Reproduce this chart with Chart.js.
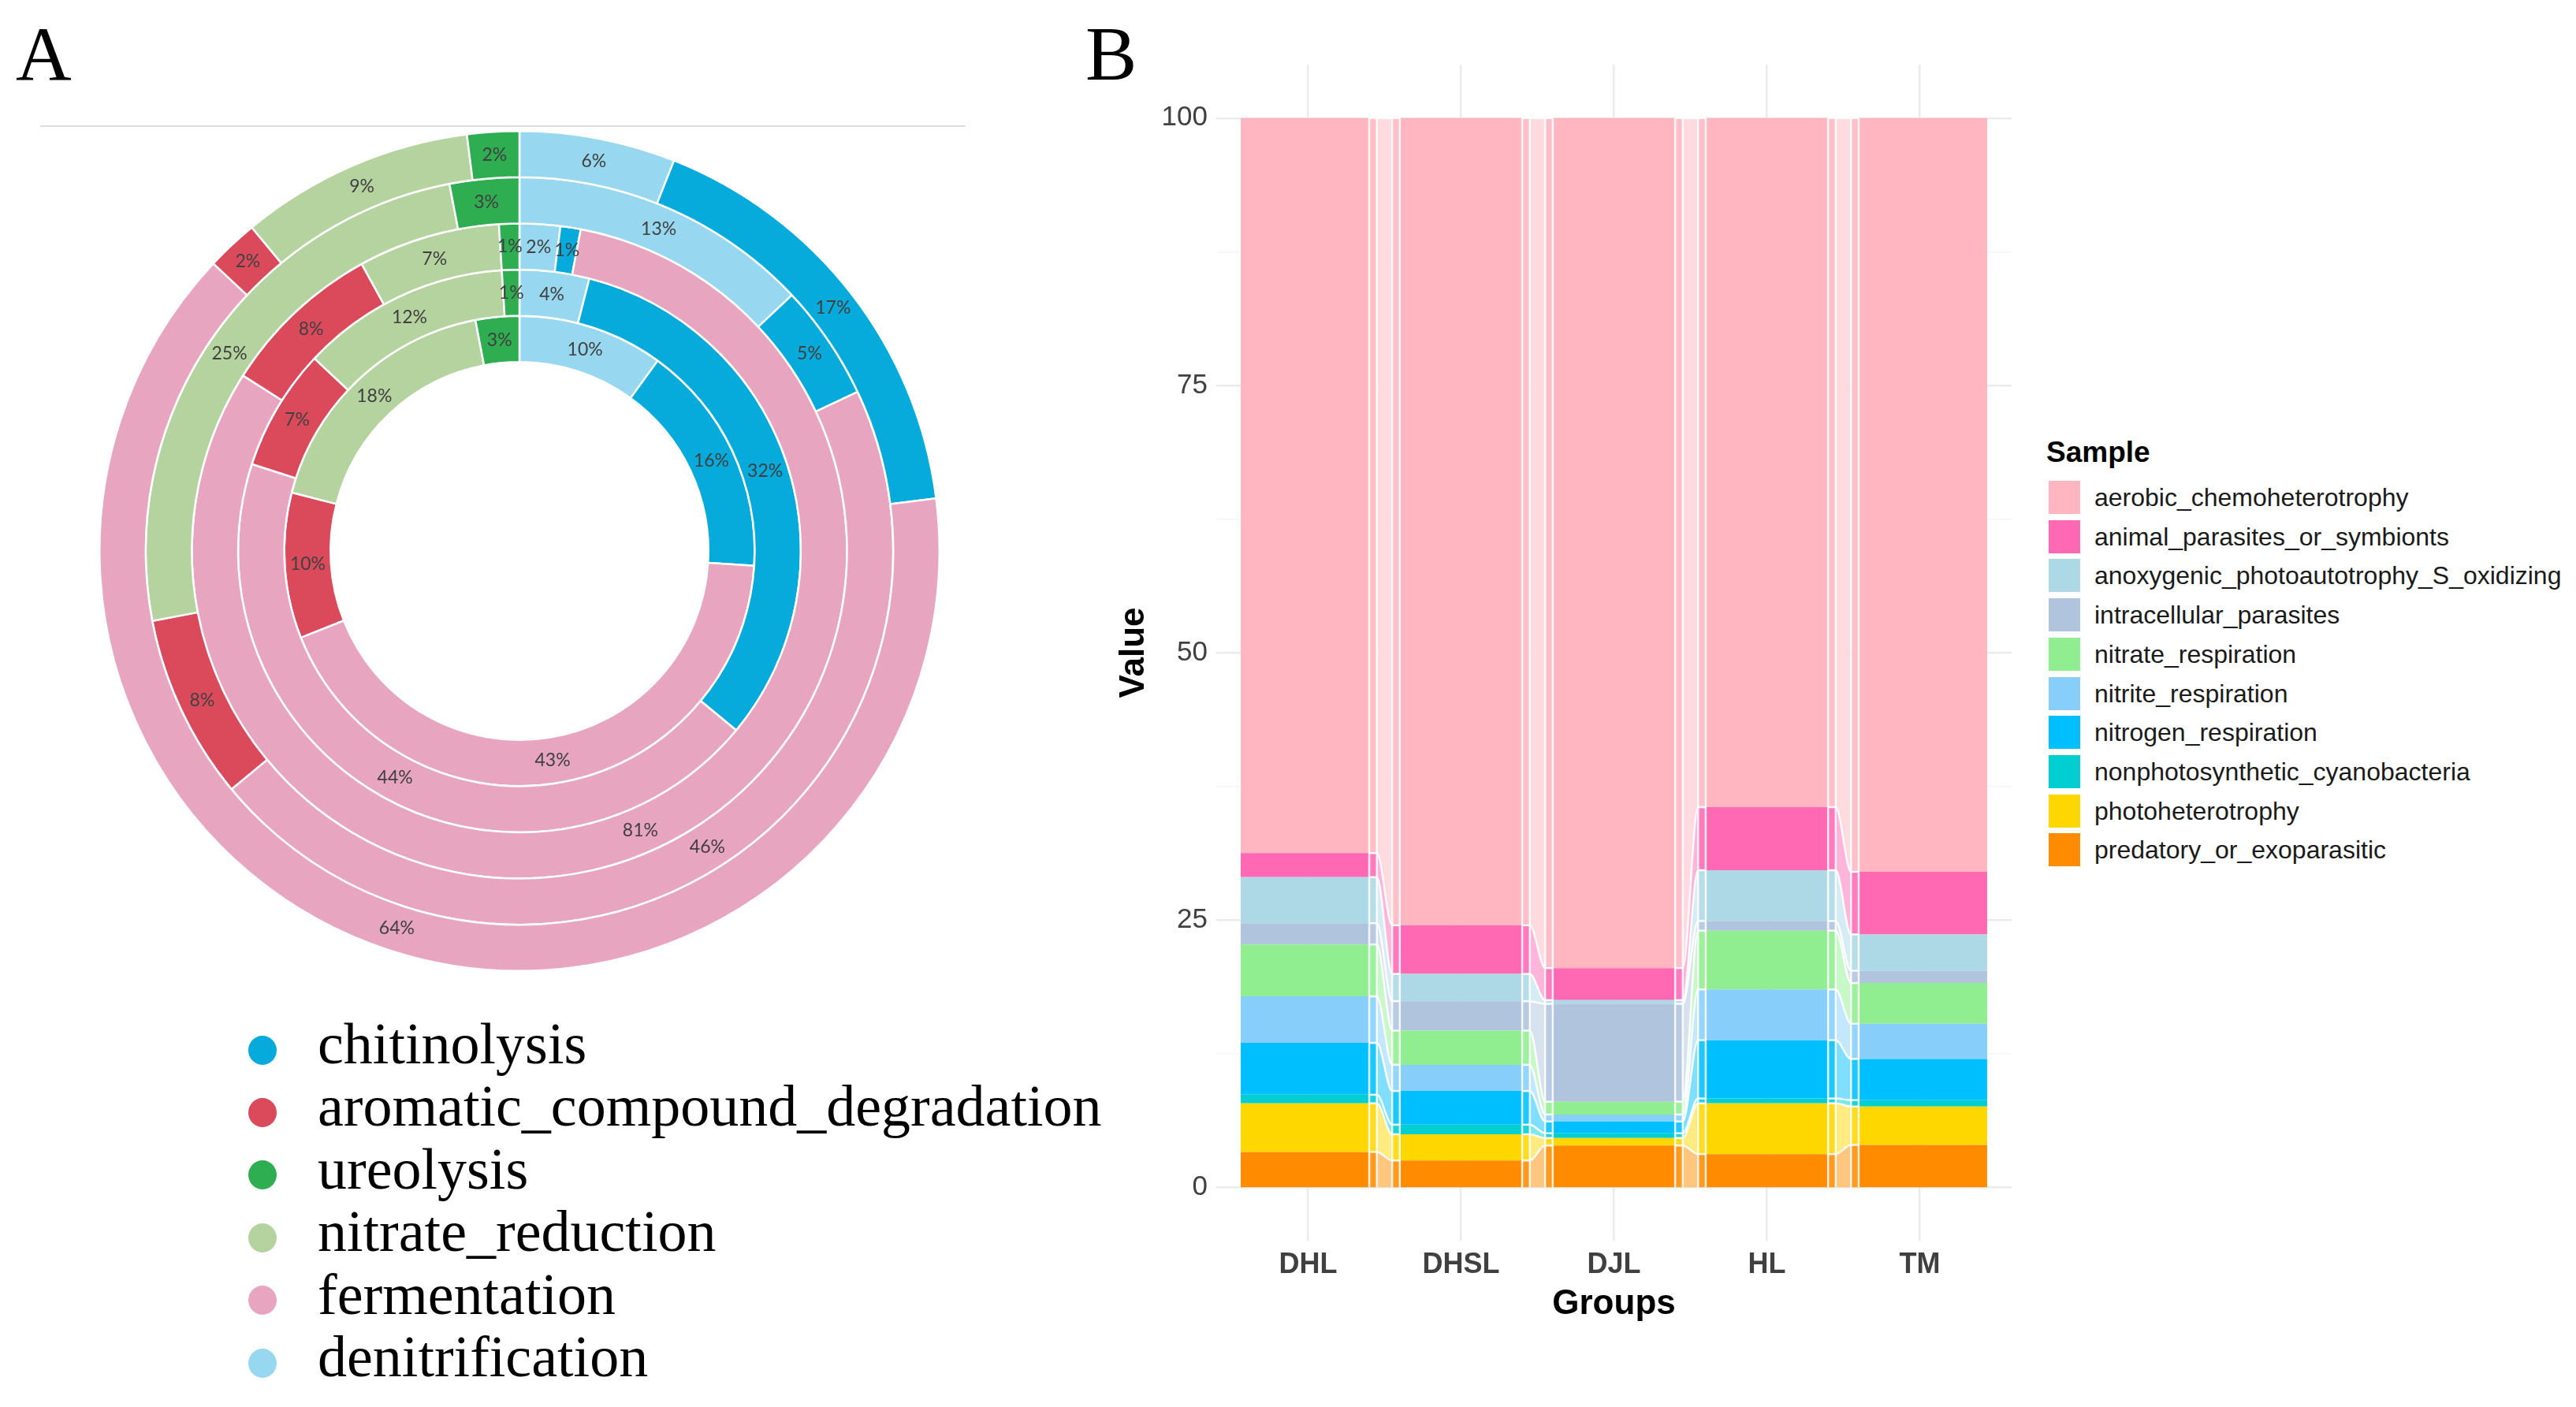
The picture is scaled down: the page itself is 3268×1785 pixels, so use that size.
<!DOCTYPE html>
<html>
<head>
<meta charset="utf-8">
<script src="https://cdn.jsdelivr.net/npm/chart.js@4.4.1/dist/chart.umd.min.js"></script>
<style>
    html, body { margin: 0; padding: 0; background: #fff; }
    body { width: 3268px; height: 1785px; position: relative; overflow: hidden; }
    .tag { position: absolute; font-family: "Liberation Serif", serif; font-size: 98px; line-height: 98px; color: #000; }
    #lineA { position: absolute; left: 51px; top: 159px; width: 1174px; height: 2px; background: #dcdcdc; }
    #chartA { position: absolute; left: 125px; top: 165px; }
    #chartB { position: absolute; left: 1380px; top: 0; }
    .legA { position: absolute; left: 403px; font-family: "Liberation Serif", serif; font-size: 74px; line-height: 74px; color: #000; white-space: nowrap; }
    .dotA { position: absolute; left: 315px; width: 36px; height: 37px; border-radius: 50%; }
    .legBTitle { position: absolute; left: 2596px; top: 552px; font-family: "Liberation Sans", Arial, sans-serif; font-weight: bold; font-size: 37px; line-height: 44px; color: #000; }
    .boxB { position: absolute; left: 2599px; width: 40px; height: 42px; }
    .txtB { position: absolute; left: 2657px; height: 42px; line-height: 42px; font-family: "Liberation Sans", Arial, sans-serif; font-size: 32px; color: #1a1a1a; white-space: nowrap; }
</style>
</head>
<body>
<div class="tag" style="left:20px; top:19px;">A</div>
<div class="tag" style="left:1377px; top:19px;">B</div>
<div id="lineA"></div>
<canvas id="chartA" width="1068" height="1068"></canvas>
<canvas id="chartB" width="1190" height="1710"></canvas>
<div id="legendA"></div>
<div id="legendB"></div>

<script>
// ---------- panel A : rings, inner -> outer ----------
const functionsA = ['denitrification', 'chitinolysis', 'fermentation', 'aromatic_compound_degradation', 'nitrate_reduction', 'ureolysis'];
const colorsA = ['#97d7f0', '#06abdb', '#e8a5c0', '#db4a5a', '#b5d39e', '#2ead51'];
const legendOrderA = ['chitinolysis', 'aromatic_compound_degradation', 'ureolysis', 'nitrate_reduction', 'fermentation', 'denitrification'];
const ring1 = [10, 16, 43, 10, 18, 3];
const ring2 = [4, 32, 44, 7, 12, 1];
const ring3 = [2, 1, 81, 8, 7, 1];
const ring4 = [13, 5, 46, 8, 25, 3];
const ring5 = [6, 17, 64, 2, 9, 2];

// ---------- panel B : alluvial stacks ----------
const groups = ['DHL', 'DHSL', 'DJL', 'HL', 'TM'];
const sampleNames = [
    'aerobic_chemoheterotrophy', 'animal_parasites_or_symbionts', 'anoxygenic_photoautotrophy_S_oxidizing',
    'intracellular_parasites', 'nitrate_respiration', 'nitrite_respiration', 'nitrogen_respiration',
    'nonphotosynthetic_cyanobacteria', 'photoheterotrophy', 'predatory_or_exoparasitic'
];
const sampleColors = ['#ffb6c1', '#ff69b4', '#add8e6', '#b0c4de', '#90ee90', '#87cefa', '#00bfff', '#00ced1', '#ffd700', '#ff8c00'];
const aerobic = [68.75, 75.5, 79.5, 64.45, 70.5];
const animalParasites = [2.25, 4.55, 3.0, 5.9, 5.85];
const anoxygenic = [4.3, 2.55, 0.35, 4.75, 3.4];
const intracellular = [2.0, 2.75, 9.15, 0.9, 1.15];
const nitrateResp = [4.85, 3.2, 1.2, 5.5, 3.8];
const nitriteResp = [4.35, 2.45, 0.65, 4.75, 3.3];
const nitrogenResp = [4.85, 3.15, 1.1, 5.45, 3.85];
const nonphotoCyano = [0.8, 0.9, 0.45, 0.45, 0.6];
const photohet = [4.55, 2.45, 0.7, 4.75, 3.6];
const predatory = [3.3, 2.5, 3.9, 3.1, 3.95];
const sampleValues = [aerobic, animalParasites, anoxygenic, intracellular, nitrateResp, nitriteResp, nitrogenResp, nonphotoCyano, photohet, predatory];
const yTicks = [0, 12.5, 25, 37.5, 50, 62.5, 75, 87.5, 100];
const yLabelTicks = [0, 25, 50, 75, 100];

const BAR_HALF = 0.4;   // inner bar edges
const END_HALF = 0.44;  // outer edges of first / last bar

// ---------- helpers ----------
function mix(hex, a) {
    const n = parseInt(hex.slice(1), 16);
    const c = [(n >> 16) & 255, (n >> 8) & 255, n & 255].map(v => Math.round(255 - (255 - v) * a));
    return `rgb(${c[0]},${c[1]},${c[2]})`;
}

function flowPoints(values) {
    const pts = [];
    values.forEach((v, i) => {
        const left = i === 0 ? -END_HALF : i - BAR_HALF;
        const right = i === values.length - 1 ? i + END_HALF : i + BAR_HALF;
        pts.push({ x: left, y: v }, { x: right, y: v });
        if (i < values.length - 1) {
            pts.push({ x: i + 0.45, y: v }, { x: i + 0.55, y: values[i + 1] });
        }
    });
    return pts;
}

// ---------- chart A ----------
const pctLabels = {
    id: 'pctLabels',
    afterDatasetsDraw(chart) {
        const ctx = chart.ctx;
        ctx.save();
        ctx.font = '23px Lato';
        ctx.fillStyle = '#404040';
        ctx.textAlign = 'center';
        ctx.textBaseline = 'middle';
        chart.data.datasets.forEach((ds, di) => {
            chart.getDatasetMeta(di).data.forEach((arc, i) => {
                const p = arc.tooltipPosition();
                ctx.fillText(ds.data[i] + '%', p.x, p.y);
            });
        });
        ctx.restore();
    }
};

new Chart(document.getElementById('chartA'), {
    type: 'doughnut',
    data: {
        labels: functionsA,
        datasets: [ring5, ring4, ring3, ring2, ring1].map(r => ({
            data: r,
            backgroundColor: colorsA,
            borderColor: '#ffffff',
            borderWidth: 2.5
        }))
    },
    options: {
        animation: false,
        responsive: false,
        cutout: '45%',
        plugins: { legend: { display: false }, tooltip: { enabled: false } }
    },
    plugins: [pctLabels]
});

// legend A
const legendA = document.getElementById('legendA');
legendOrderA.forEach((name, k) => {
    const cy = 1332 + k * 79.4;
    const col = colorsA[functionsA.indexOf(name)];
    legendA.innerHTML += `<div class="dotA" style="top:${cy - 18.5}px; background:${col};"></div>
        <div class="legA" style="top:${cy - 45}px;">${name}</div>`;
});

// ---------- chart B ----------
const strataLines = {
    id: 'strataLines',
    afterDatasetsDraw(chart) {
        const { ctx, scales: { x, y } } = chart;
        ctx.save();
        ctx.strokeStyle = 'rgba(255,255,255,0.85)';
        ctx.lineWidth = 2.5;
        for (let i = 0; i < groups.length - 1; i++) {
            [i + BAR_HALF, i + 0.45, i + 0.55, i + 1 - BAR_HALF].forEach(v => {
                const px = x.getPixelForValue(v);
                ctx.beginPath();
                ctx.moveTo(px, y.getPixelForValue(0));
                ctx.lineTo(px, y.getPixelForValue(100));
                ctx.stroke();
            });
        }
        ctx.restore();
    }
};

// stack from the bottom: last name first
const datasetsB = sampleNames.map((name, k) => ({ name, k })).reverse().map((s, idx) => {
    const col = sampleColors[s.k];
    return {
        label: s.name,
        data: flowPoints(sampleValues[s.k]),
        fill: idx === 0 ? 'origin' : '-1',
        backgroundColor: col,
        borderColor: 'rgba(255,255,255,0)',
        borderWidth: 2.5,
        pointRadius: 0,
        cubicInterpolationMode: 'monotone',
        segment: {
            backgroundColor: c => {
                const part = c.p0DataIndex % 4;
                return part === 0 ? col : part === 2 ? mix(col, 0.5) : mix(col, 0.88);
            },
            borderColor: c => (c.p0DataIndex % 4 === 0 ? 'rgba(255,255,255,0)' : 'rgba(255,255,255,0.9)')
        }
    };
});

const axisFont = { family: 'Liberation Sans', size: 44, weight: 'bold' };

new Chart(document.getElementById('chartB'), {
    type: 'line',
    data: { datasets: datasetsB },
    options: {
        animation: false,
        responsive: false,
        layout: { padding: { top: 82, right: 18, left: 0, bottom: 0 } },
        plugins: { legend: { display: false }, tooltip: { enabled: false } },
        scales: {
            x: {
                type: 'linear',
                min: -0.6,
                max: 4.6,
                afterBuildTicks: s => { s.ticks = groups.map((g, i) => ({ value: i })); },
                afterFit: s => { s.height = 136; },
                ticks: {
                    callback: v => groups[v],
                    font: { family: 'Liberation Sans', size: 36, weight: 'bold' },
                    color: '#404040',
                    padding: 9,
                    autoSkip: false,
                    maxRotation: 0
                },
                grid: { color: '#ebebeb', lineWidth: 2.5, drawTicks: false },
                border: { display: false },
                title: { display: true, text: 'Groups', font: axisFont, color: '#000', padding: { top: 0, bottom: 29 } }
            },
            y: {
                stacked: true,
                min: -5,
                max: 105,
                afterBuildTicks: s => { s.ticks = yTicks.map(v => ({ value: v })); },
                afterFit: s => { s.width = 163; },
                ticks: {
                    callback: v => (yLabelTicks.includes(v) ? v : ''),
                    font: { family: 'Liberation Sans', size: 35 },
                    color: '#404040',
                    padding: 11
                },
                grid: {
                    color: c => (yLabelTicks.includes(c.tick.value) ? '#ebebeb' : '#f5f5f5'),
                    lineWidth: c => (yLabelTicks.includes(c.tick.value) ? 2.5 : 1.5),
                    drawTicks: false
                },
                border: { display: false },
                title: { display: true, text: 'Value', font: axisFont, color: '#000', padding: { top: 32, bottom: 0 } }
            }
        }
    },
    plugins: [strataLines]
});

// legend B
const legendB = document.getElementById('legendB');
legendB.innerHTML = '<div class="legBTitle">Sample</div>';
sampleNames.forEach((name, k) => {
    const top = 610 + k * 49.7;
    legendB.innerHTML += `<div class="boxB" style="top:${top}px; background:${sampleColors[k]};"></div>
        <div class="txtB" style="top:${top}px;">${name}</div>`;
});
</script>
</body>
</html>
